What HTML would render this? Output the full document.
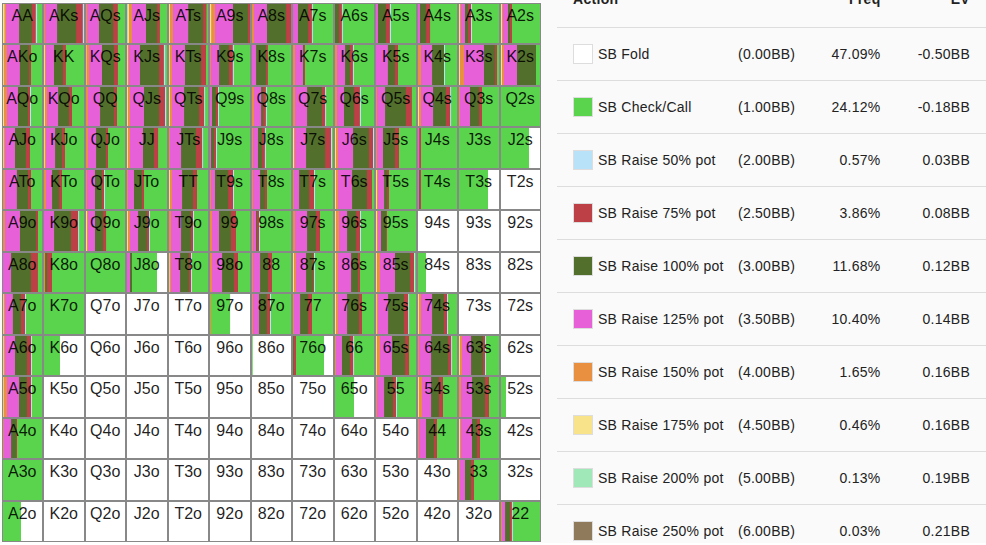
<!DOCTYPE html>
<html><head><meta charset="utf-8"><title>Range</title>
<style>
html,body{margin:0;padding:0}
body{width:986px;height:545px;overflow:hidden;background:#fafafa;position:relative;font-family:"Liberation Sans",sans-serif;font-size:14px;color:#222}
.sep{position:absolute;left:557px;width:429px;height:1px;background:#dddddd}
.sw{position:absolute;left:573px;width:20px;height:20px;box-sizing:border-box;border:1px solid #dddddd}
.t{position:absolute;height:53px;line-height:54px;white-space:nowrap;letter-spacing:0.25px}
.r{text-align:right}
.hd{position:absolute;top:-9px;height:16px;line-height:16px;font-weight:bold;white-space:nowrap;letter-spacing:0.3px}
</style></head><body>
<svg width="986" height="545" viewBox="0 0 986 545" style="position:absolute;left:0;top:0">
<rect x="2" y="2" width="539" height="541" fill="#ffffff"/>
<rect x="0" y="543" width="986" height="2" fill="#ffffff"/>
<rect x="2" y="3" width="539" height="539" fill="#888888"/>
<rect x="3.00" y="4" width="39.00" height="39" fill="#f8e28a"/>
<rect x="4.40" y="4" width="37.60" height="39" fill="#e89040"/>
<rect x="6.10" y="4" width="35.90" height="39" fill="#e860d8"/>
<rect x="19.10" y="4" width="22.90" height="39" fill="#52702c"/>
<rect x="31.90" y="4" width="10.10" height="39" fill="#bc4046"/>
<rect x="35.80" y="4" width="6.20" height="39" fill="#b8e2f8"/>
<rect x="37.10" y="4" width="4.90" height="39" fill="#5ad44c"/>
<rect x="44.00" y="4" width="40.00" height="39" fill="#e89040"/>
<rect x="45.20" y="4" width="38.80" height="39" fill="#e860d8"/>
<rect x="57.10" y="4" width="26.90" height="39" fill="#52702c"/>
<rect x="76.10" y="4" width="7.90" height="39" fill="#bc4046"/>
<rect x="82.80" y="4" width="1.20" height="39" fill="#b8e2f8"/>
<rect x="86.00" y="4" width="39.00" height="39" fill="#e89040"/>
<rect x="87.20" y="4" width="37.80" height="39" fill="#e860d8"/>
<rect x="99.00" y="4" width="26.00" height="39" fill="#52702c"/>
<rect x="113.20" y="4" width="11.80" height="39" fill="#bc4046"/>
<rect x="117.80" y="4" width="7.20" height="39" fill="#5ad44c"/>
<rect x="127.00" y="4" width="40.00" height="39" fill="#a0e8b8"/>
<rect x="128.00" y="4" width="39.00" height="39" fill="#f8e28a"/>
<rect x="129.00" y="4" width="38.00" height="39" fill="#e89040"/>
<rect x="132.00" y="4" width="35.00" height="39" fill="#e860d8"/>
<rect x="146.00" y="4" width="21.00" height="39" fill="#52702c"/>
<rect x="157.10" y="4" width="9.90" height="39" fill="#bc4046"/>
<rect x="159.90" y="4" width="7.10" height="39" fill="#5ad44c"/>
<rect x="169.00" y="4" width="39.00" height="39" fill="#f8e28a"/>
<rect x="170.00" y="4" width="38.00" height="39" fill="#e89040"/>
<rect x="173.00" y="4" width="35.00" height="39" fill="#e860d8"/>
<rect x="188.20" y="4" width="19.80" height="39" fill="#52702c"/>
<rect x="203.10" y="4" width="4.90" height="39" fill="#bc4046"/>
<rect x="206.50" y="4" width="1.50" height="39" fill="#5ad44c"/>
<rect x="210.00" y="4" width="40.00" height="39" fill="#f8e28a"/>
<rect x="211.20" y="4" width="38.80" height="39" fill="#e89040"/>
<rect x="215.00" y="4" width="35.00" height="39" fill="#e860d8"/>
<rect x="233.00" y="4" width="17.00" height="39" fill="#52702c"/>
<rect x="248.00" y="4" width="2.00" height="39" fill="#bc4046"/>
<rect x="252.00" y="4" width="39.00" height="39" fill="#e89040"/>
<rect x="254.00" y="4" width="37.00" height="39" fill="#e860d8"/>
<rect x="267.00" y="4" width="24.00" height="39" fill="#52702c"/>
<rect x="286.10" y="4" width="4.90" height="39" fill="#bc4046"/>
<rect x="293.00" y="4" width="40.00" height="39" fill="#e860d8"/>
<rect x="298.00" y="4" width="35.00" height="39" fill="#52702c"/>
<rect x="308.10" y="4" width="24.90" height="39" fill="#bc4046"/>
<rect x="311.90" y="4" width="21.10" height="39" fill="#b8e2f8"/>
<rect x="312.90" y="4" width="20.10" height="39" fill="#5ad44c"/>
<rect x="335.00" y="4" width="39.00" height="39" fill="#52702c"/>
<rect x="339.00" y="4" width="35.00" height="39" fill="#bc4046"/>
<rect x="341.90" y="4" width="32.10" height="39" fill="#b8e2f8"/>
<rect x="342.90" y="4" width="31.10" height="39" fill="#5ad44c"/>
<rect x="376.00" y="4" width="40.00" height="39" fill="#e860d8"/>
<rect x="378.00" y="4" width="38.00" height="39" fill="#52702c"/>
<rect x="385.90" y="4" width="30.10" height="39" fill="#bc4046"/>
<rect x="389.90" y="4" width="26.10" height="39" fill="#b8e2f8"/>
<rect x="391.00" y="4" width="25.00" height="39" fill="#5ad44c"/>
<rect x="418.00" y="4" width="39.00" height="39" fill="#e860d8"/>
<rect x="420.00" y="4" width="37.00" height="39" fill="#52702c"/>
<rect x="426.10" y="4" width="30.90" height="39" fill="#bc4046"/>
<rect x="430.10" y="4" width="26.90" height="39" fill="#5ad44c"/>
<rect x="459.00" y="4" width="40.00" height="39" fill="#f8e28a"/>
<rect x="460.00" y="4" width="39.00" height="39" fill="#e89040"/>
<rect x="461.00" y="4" width="38.00" height="39" fill="#e860d8"/>
<rect x="465.00" y="4" width="34.00" height="39" fill="#52702c"/>
<rect x="468.00" y="4" width="31.00" height="39" fill="#bc4046"/>
<rect x="471.00" y="4" width="28.00" height="39" fill="#b8e2f8"/>
<rect x="472.00" y="4" width="27.00" height="39" fill="#5ad44c"/>
<rect x="501.00" y="4" width="39.00" height="39" fill="#f8e28a"/>
<rect x="502.00" y="4" width="38.00" height="39" fill="#e89040"/>
<rect x="503.00" y="4" width="37.00" height="39" fill="#e860d8"/>
<rect x="508.00" y="4" width="32.00" height="39" fill="#52702c"/>
<rect x="510.00" y="4" width="30.00" height="39" fill="#bc4046"/>
<rect x="512.00" y="4" width="28.00" height="39" fill="#5ad44c"/>
<rect x="3.00" y="45" width="39.00" height="40" fill="#f8e28a"/>
<rect x="3.80" y="45" width="38.20" height="40" fill="#e89040"/>
<rect x="6.80" y="45" width="35.20" height="40" fill="#e860d8"/>
<rect x="19.90" y="45" width="22.10" height="40" fill="#52702c"/>
<rect x="29.00" y="45" width="13.00" height="40" fill="#bc4046"/>
<rect x="31.00" y="45" width="11.00" height="40" fill="#5ad44c"/>
<rect x="44.00" y="45" width="40.00" height="40" fill="#f8e28a"/>
<rect x="44.90" y="45" width="39.10" height="40" fill="#e89040"/>
<rect x="45.70" y="45" width="38.30" height="40" fill="#e860d8"/>
<rect x="54.00" y="45" width="30.00" height="40" fill="#52702c"/>
<rect x="62.90" y="45" width="21.10" height="40" fill="#bc4046"/>
<rect x="65.90" y="45" width="18.10" height="40" fill="#5ad44c"/>
<rect x="86.00" y="45" width="39.00" height="40" fill="#f8e28a"/>
<rect x="86.50" y="45" width="38.50" height="40" fill="#e89040"/>
<rect x="89.20" y="45" width="35.80" height="40" fill="#e860d8"/>
<rect x="102.00" y="45" width="23.00" height="40" fill="#52702c"/>
<rect x="114.00" y="45" width="11.00" height="40" fill="#bc4046"/>
<rect x="117.90" y="45" width="7.10" height="40" fill="#5ad44c"/>
<rect x="127.00" y="45" width="40.00" height="40" fill="#f8e28a"/>
<rect x="127.90" y="45" width="39.10" height="40" fill="#e89040"/>
<rect x="129.00" y="45" width="38.00" height="40" fill="#e860d8"/>
<rect x="140.00" y="45" width="27.00" height="40" fill="#52702c"/>
<rect x="159.10" y="45" width="7.90" height="40" fill="#bc4046"/>
<rect x="163.90" y="45" width="3.10" height="40" fill="#b8e2f8"/>
<rect x="165.20" y="45" width="1.80" height="40" fill="#5ad44c"/>
<rect x="169.00" y="45" width="39.00" height="40" fill="#f8e28a"/>
<rect x="169.80" y="45" width="38.20" height="40" fill="#e89040"/>
<rect x="172.00" y="45" width="36.00" height="40" fill="#e860d8"/>
<rect x="185.00" y="45" width="23.00" height="40" fill="#52702c"/>
<rect x="201.10" y="45" width="6.90" height="40" fill="#bc4046"/>
<rect x="206.00" y="45" width="2.00" height="40" fill="#5ad44c"/>
<rect x="210.00" y="45" width="40.00" height="40" fill="#e89040"/>
<rect x="210.90" y="45" width="39.10" height="40" fill="#e860d8"/>
<rect x="219.10" y="45" width="30.90" height="40" fill="#52702c"/>
<rect x="229.00" y="45" width="21.00" height="40" fill="#bc4046"/>
<rect x="232.80" y="45" width="17.20" height="40" fill="#b8e2f8"/>
<rect x="233.90" y="45" width="16.10" height="40" fill="#5ad44c"/>
<rect x="252.00" y="45" width="39.00" height="40" fill="#e860d8"/>
<rect x="256.10" y="45" width="34.90" height="40" fill="#52702c"/>
<rect x="266.00" y="45" width="25.00" height="40" fill="#bc4046"/>
<rect x="267.90" y="45" width="23.10" height="40" fill="#5ad44c"/>
<rect x="293.00" y="45" width="40.00" height="40" fill="#e89040"/>
<rect x="295.00" y="45" width="38.00" height="40" fill="#e860d8"/>
<rect x="303.00" y="45" width="30.00" height="40" fill="#52702c"/>
<rect x="304.00" y="45" width="29.00" height="40" fill="#bc4046"/>
<rect x="305.00" y="45" width="28.00" height="40" fill="#5ad44c"/>
<rect x="335.00" y="45" width="39.00" height="40" fill="#e89040"/>
<rect x="337.00" y="45" width="37.00" height="40" fill="#e860d8"/>
<rect x="345.10" y="45" width="28.90" height="40" fill="#52702c"/>
<rect x="349.90" y="45" width="24.10" height="40" fill="#bc4046"/>
<rect x="352.90" y="45" width="21.10" height="40" fill="#b8e2f8"/>
<rect x="353.90" y="45" width="20.10" height="40" fill="#5ad44c"/>
<rect x="376.00" y="45" width="40.00" height="40" fill="#e860d8"/>
<rect x="387.90" y="45" width="28.10" height="40" fill="#52702c"/>
<rect x="395.00" y="45" width="21.00" height="40" fill="#bc4046"/>
<rect x="398.00" y="45" width="18.00" height="40" fill="#5ad44c"/>
<rect x="418.00" y="45" width="39.00" height="40" fill="#e89040"/>
<rect x="421.00" y="45" width="36.00" height="40" fill="#e860d8"/>
<rect x="432.10" y="45" width="24.90" height="40" fill="#52702c"/>
<rect x="444.00" y="45" width="13.00" height="40" fill="#b8e2f8"/>
<rect x="445.00" y="45" width="12.00" height="40" fill="#5ad44c"/>
<rect x="459.00" y="45" width="40.00" height="40" fill="#f8e28a"/>
<rect x="460.00" y="45" width="39.00" height="40" fill="#e89040"/>
<rect x="464.00" y="45" width="35.00" height="40" fill="#e860d8"/>
<rect x="484.00" y="45" width="15.00" height="40" fill="#52702c"/>
<rect x="495.00" y="45" width="4.00" height="40" fill="#bc4046"/>
<rect x="497.00" y="45" width="2.00" height="40" fill="#5ad44c"/>
<rect x="501.00" y="45" width="39.00" height="40" fill="#f8e28a"/>
<rect x="502.00" y="45" width="38.00" height="40" fill="#e89040"/>
<rect x="504.00" y="45" width="36.00" height="40" fill="#e860d8"/>
<rect x="517.00" y="45" width="23.00" height="40" fill="#52702c"/>
<rect x="536.00" y="45" width="4.00" height="40" fill="#5ad44c"/>
<rect x="3.00" y="87" width="39.00" height="39" fill="#f8e28a"/>
<rect x="4.00" y="87" width="38.00" height="39" fill="#e89040"/>
<rect x="7.00" y="87" width="35.00" height="39" fill="#e860d8"/>
<rect x="18.00" y="87" width="24.00" height="39" fill="#52702c"/>
<rect x="28.00" y="87" width="14.00" height="39" fill="#bc4046"/>
<rect x="30.00" y="87" width="12.00" height="39" fill="#b8e2f8"/>
<rect x="31.00" y="87" width="11.00" height="39" fill="#5ad44c"/>
<rect x="44.00" y="87" width="40.00" height="39" fill="#f8e28a"/>
<rect x="45.00" y="87" width="39.00" height="39" fill="#e89040"/>
<rect x="47.00" y="87" width="37.00" height="39" fill="#e860d8"/>
<rect x="58.10" y="87" width="25.90" height="39" fill="#52702c"/>
<rect x="69.00" y="87" width="15.00" height="39" fill="#bc4046"/>
<rect x="72.00" y="87" width="12.00" height="39" fill="#5ad44c"/>
<rect x="86.00" y="87" width="39.00" height="39" fill="#e89040"/>
<rect x="88.00" y="87" width="37.00" height="39" fill="#e860d8"/>
<rect x="100.10" y="87" width="24.90" height="39" fill="#52702c"/>
<rect x="114.00" y="87" width="11.00" height="39" fill="#bc4046"/>
<rect x="117.00" y="87" width="8.00" height="39" fill="#5ad44c"/>
<rect x="127.00" y="87" width="40.00" height="39" fill="#f8e28a"/>
<rect x="128.00" y="87" width="39.00" height="39" fill="#e89040"/>
<rect x="130.00" y="87" width="37.00" height="39" fill="#e860d8"/>
<rect x="144.00" y="87" width="23.00" height="39" fill="#52702c"/>
<rect x="159.10" y="87" width="7.90" height="39" fill="#bc4046"/>
<rect x="165.00" y="87" width="2.00" height="39" fill="#b8e2f8"/>
<rect x="166.00" y="87" width="1.00" height="39" fill="#5ad44c"/>
<rect x="169.00" y="87" width="39.00" height="39" fill="#f8e28a"/>
<rect x="170.00" y="87" width="38.00" height="39" fill="#e89040"/>
<rect x="172.00" y="87" width="36.00" height="39" fill="#e860d8"/>
<rect x="184.10" y="87" width="23.90" height="39" fill="#52702c"/>
<rect x="199.10" y="87" width="8.90" height="39" fill="#bc4046"/>
<rect x="204.10" y="87" width="3.90" height="39" fill="#b8e2f8"/>
<rect x="205.10" y="87" width="2.90" height="39" fill="#5ad44c"/>
<rect x="210.00" y="87" width="40.00" height="39" fill="#e860d8"/>
<rect x="212.00" y="87" width="38.00" height="39" fill="#52702c"/>
<rect x="216.00" y="87" width="34.00" height="39" fill="#bc4046"/>
<rect x="218.00" y="87" width="32.00" height="39" fill="#b8e2f8"/>
<rect x="219.00" y="87" width="31.00" height="39" fill="#5ad44c"/>
<rect x="252.00" y="87" width="39.00" height="39" fill="#e89040"/>
<rect x="254.00" y="87" width="37.00" height="39" fill="#e860d8"/>
<rect x="261.10" y="87" width="29.90" height="39" fill="#52702c"/>
<rect x="263.10" y="87" width="27.90" height="39" fill="#bc4046"/>
<rect x="265.90" y="87" width="25.10" height="39" fill="#b8e2f8"/>
<rect x="266.90" y="87" width="24.10" height="39" fill="#5ad44c"/>
<rect x="293.00" y="87" width="40.00" height="39" fill="#e89040"/>
<rect x="295.00" y="87" width="38.00" height="39" fill="#e860d8"/>
<rect x="307.10" y="87" width="25.90" height="39" fill="#52702c"/>
<rect x="322.00" y="87" width="11.00" height="39" fill="#bc4046"/>
<rect x="325.10" y="87" width="7.90" height="39" fill="#b8e2f8"/>
<rect x="326.10" y="87" width="6.90" height="39" fill="#5ad44c"/>
<rect x="335.00" y="87" width="39.00" height="39" fill="#e89040"/>
<rect x="337.00" y="87" width="37.00" height="39" fill="#e860d8"/>
<rect x="344.00" y="87" width="30.00" height="39" fill="#52702c"/>
<rect x="354.10" y="87" width="19.90" height="39" fill="#bc4046"/>
<rect x="359.90" y="87" width="14.10" height="39" fill="#b8e2f8"/>
<rect x="361.00" y="87" width="13.00" height="39" fill="#5ad44c"/>
<rect x="376.00" y="87" width="40.00" height="39" fill="#e89040"/>
<rect x="377.00" y="87" width="39.00" height="39" fill="#e860d8"/>
<rect x="385.10" y="87" width="30.90" height="39" fill="#52702c"/>
<rect x="405.90" y="87" width="10.10" height="39" fill="#bc4046"/>
<rect x="411.90" y="87" width="4.10" height="39" fill="#5ad44c"/>
<rect x="418.00" y="87" width="39.00" height="39" fill="#f8e28a"/>
<rect x="419.00" y="87" width="38.00" height="39" fill="#e89040"/>
<rect x="421.00" y="87" width="36.00" height="39" fill="#e860d8"/>
<rect x="433.10" y="87" width="23.90" height="39" fill="#52702c"/>
<rect x="446.00" y="87" width="11.00" height="39" fill="#bc4046"/>
<rect x="450.10" y="87" width="6.90" height="39" fill="#b8e2f8"/>
<rect x="451.10" y="87" width="5.90" height="39" fill="#5ad44c"/>
<rect x="459.00" y="87" width="40.00" height="39" fill="#e89040"/>
<rect x="460.00" y="87" width="39.00" height="39" fill="#e860d8"/>
<rect x="470.00" y="87" width="29.00" height="39" fill="#52702c"/>
<rect x="479.10" y="87" width="19.90" height="39" fill="#bc4046"/>
<rect x="482.00" y="87" width="17.00" height="39" fill="#5ad44c"/>
<rect x="501.00" y="87" width="39.00" height="39" fill="#5ad44c"/>
<rect x="3.00" y="128" width="39.00" height="40" fill="#f8e28a"/>
<rect x="3.70" y="128" width="38.30" height="40" fill="#e89040"/>
<rect x="5.00" y="128" width="37.00" height="40" fill="#e860d8"/>
<rect x="15.00" y="128" width="27.00" height="40" fill="#52702c"/>
<rect x="26.00" y="128" width="16.00" height="40" fill="#bc4046"/>
<rect x="30.00" y="128" width="12.00" height="40" fill="#5ad44c"/>
<rect x="44.00" y="128" width="40.00" height="40" fill="#f8e28a"/>
<rect x="44.80" y="128" width="39.20" height="40" fill="#e89040"/>
<rect x="46.00" y="128" width="38.00" height="40" fill="#e860d8"/>
<rect x="55.10" y="128" width="28.90" height="40" fill="#52702c"/>
<rect x="62.00" y="128" width="22.00" height="40" fill="#bc4046"/>
<rect x="65.00" y="128" width="19.00" height="40" fill="#5ad44c"/>
<rect x="86.00" y="128" width="39.00" height="40" fill="#e89040"/>
<rect x="88.00" y="128" width="37.00" height="40" fill="#e860d8"/>
<rect x="96.10" y="128" width="28.90" height="40" fill="#52702c"/>
<rect x="106.00" y="128" width="19.00" height="40" fill="#bc4046"/>
<rect x="108.00" y="128" width="17.00" height="40" fill="#5ad44c"/>
<rect x="127.00" y="128" width="40.00" height="40" fill="#f8e28a"/>
<rect x="128.00" y="128" width="39.00" height="40" fill="#e89040"/>
<rect x="130.00" y="128" width="37.00" height="40" fill="#e860d8"/>
<rect x="143.00" y="128" width="24.00" height="40" fill="#52702c"/>
<rect x="154.00" y="128" width="13.00" height="40" fill="#bc4046"/>
<rect x="158.10" y="128" width="8.90" height="40" fill="#5ad44c"/>
<rect x="169.00" y="128" width="39.00" height="40" fill="#e89040"/>
<rect x="170.00" y="128" width="38.00" height="40" fill="#e860d8"/>
<rect x="181.10" y="128" width="26.90" height="40" fill="#52702c"/>
<rect x="196.00" y="128" width="12.00" height="40" fill="#bc4046"/>
<rect x="202.10" y="128" width="5.90" height="40" fill="#b8e2f8"/>
<rect x="203.10" y="128" width="4.90" height="40" fill="#5ad44c"/>
<rect x="210.00" y="128" width="40.00" height="40" fill="#e860d8"/>
<rect x="211.00" y="128" width="39.00" height="40" fill="#52702c"/>
<rect x="214.00" y="128" width="36.00" height="40" fill="#bc4046"/>
<rect x="216.00" y="128" width="34.00" height="40" fill="#b8e2f8"/>
<rect x="217.00" y="128" width="33.00" height="40" fill="#5ad44c"/>
<rect x="252.00" y="128" width="39.00" height="40" fill="#e89040"/>
<rect x="253.00" y="128" width="38.00" height="40" fill="#e860d8"/>
<rect x="258.00" y="128" width="33.00" height="40" fill="#52702c"/>
<rect x="262.10" y="128" width="28.90" height="40" fill="#bc4046"/>
<rect x="264.90" y="128" width="26.10" height="40" fill="#b8e2f8"/>
<rect x="265.90" y="128" width="25.10" height="40" fill="#5ad44c"/>
<rect x="293.00" y="128" width="40.00" height="40" fill="#f8e28a"/>
<rect x="294.00" y="128" width="39.00" height="40" fill="#e89040"/>
<rect x="295.00" y="128" width="38.00" height="40" fill="#e860d8"/>
<rect x="306.10" y="128" width="26.90" height="40" fill="#52702c"/>
<rect x="325.10" y="128" width="7.90" height="40" fill="#bc4046"/>
<rect x="331.00" y="128" width="2.00" height="40" fill="#b8e2f8"/>
<rect x="332.00" y="128" width="1.00" height="40" fill="#5ad44c"/>
<rect x="335.00" y="128" width="39.00" height="40" fill="#f8e28a"/>
<rect x="336.00" y="128" width="38.00" height="40" fill="#e89040"/>
<rect x="338.00" y="128" width="36.00" height="40" fill="#e860d8"/>
<rect x="353.10" y="128" width="20.90" height="40" fill="#52702c"/>
<rect x="369.00" y="128" width="5.00" height="40" fill="#bc4046"/>
<rect x="373.00" y="128" width="1.00" height="40" fill="#b8e2f8"/>
<rect x="376.00" y="128" width="40.00" height="40" fill="#e89040"/>
<rect x="377.00" y="128" width="39.00" height="40" fill="#e860d8"/>
<rect x="383.00" y="128" width="33.00" height="40" fill="#52702c"/>
<rect x="395.00" y="128" width="21.00" height="40" fill="#bc4046"/>
<rect x="399.00" y="128" width="17.00" height="40" fill="#5ad44c"/>
<rect x="418.00" y="128" width="39.00" height="40" fill="#e860d8"/>
<rect x="419.20" y="128" width="37.80" height="40" fill="#bc4046"/>
<rect x="421.00" y="128" width="36.00" height="40" fill="#5ad44c"/>
<rect x="459.00" y="128" width="40.00" height="40" fill="#5ad44c"/>
<rect x="501.00" y="128" width="39.00" height="40" fill="#5ad44c"/>
<rect x="529.00" y="128" width="11.00" height="40" fill="#ffffff"/>
<rect x="3.00" y="170" width="39.00" height="39" fill="#e89040"/>
<rect x="5.00" y="170" width="37.00" height="39" fill="#e860d8"/>
<rect x="16.90" y="170" width="25.10" height="39" fill="#52702c"/>
<rect x="28.00" y="170" width="14.00" height="39" fill="#bc4046"/>
<rect x="31.00" y="170" width="11.00" height="39" fill="#5ad44c"/>
<rect x="44.00" y="170" width="40.00" height="39" fill="#e89040"/>
<rect x="46.00" y="170" width="38.00" height="39" fill="#e860d8"/>
<rect x="52.10" y="170" width="31.90" height="39" fill="#52702c"/>
<rect x="59.10" y="170" width="24.90" height="39" fill="#bc4046"/>
<rect x="62.00" y="170" width="22.00" height="39" fill="#5ad44c"/>
<rect x="86.00" y="170" width="39.00" height="39" fill="#e89040"/>
<rect x="87.00" y="170" width="38.00" height="39" fill="#e860d8"/>
<rect x="95.00" y="170" width="30.00" height="39" fill="#52702c"/>
<rect x="102.00" y="170" width="23.00" height="39" fill="#bc4046"/>
<rect x="104.00" y="170" width="21.00" height="39" fill="#b8e2f8"/>
<rect x="105.00" y="170" width="20.00" height="39" fill="#5ad44c"/>
<rect x="127.00" y="170" width="40.00" height="39" fill="#e89040"/>
<rect x="128.00" y="170" width="39.00" height="39" fill="#e860d8"/>
<rect x="134.00" y="170" width="33.00" height="39" fill="#52702c"/>
<rect x="142.00" y="170" width="25.00" height="39" fill="#bc4046"/>
<rect x="144.00" y="170" width="23.00" height="39" fill="#5ad44c"/>
<rect x="169.00" y="170" width="39.00" height="39" fill="#f8e28a"/>
<rect x="170.00" y="170" width="38.00" height="39" fill="#e89040"/>
<rect x="172.00" y="170" width="36.00" height="39" fill="#e860d8"/>
<rect x="182.10" y="170" width="25.90" height="39" fill="#52702c"/>
<rect x="193.00" y="170" width="15.00" height="39" fill="#bc4046"/>
<rect x="197.00" y="170" width="11.00" height="39" fill="#5ad44c"/>
<rect x="210.00" y="170" width="40.00" height="39" fill="#e89040"/>
<rect x="211.00" y="170" width="39.00" height="39" fill="#e860d8"/>
<rect x="215.00" y="170" width="35.00" height="39" fill="#52702c"/>
<rect x="228.10" y="170" width="21.90" height="39" fill="#bc4046"/>
<rect x="233.00" y="170" width="17.00" height="39" fill="#b8e2f8"/>
<rect x="234.00" y="170" width="16.00" height="39" fill="#5ad44c"/>
<rect x="252.00" y="170" width="39.00" height="39" fill="#e89040"/>
<rect x="253.00" y="170" width="38.00" height="39" fill="#e860d8"/>
<rect x="260.10" y="170" width="30.90" height="39" fill="#52702c"/>
<rect x="265.00" y="170" width="26.00" height="39" fill="#bc4046"/>
<rect x="267.00" y="170" width="24.00" height="39" fill="#5ad44c"/>
<rect x="293.00" y="170" width="40.00" height="39" fill="#e89040"/>
<rect x="294.00" y="170" width="39.00" height="39" fill="#e860d8"/>
<rect x="299.10" y="170" width="33.90" height="39" fill="#52702c"/>
<rect x="309.10" y="170" width="23.90" height="39" fill="#bc4046"/>
<rect x="314.00" y="170" width="19.00" height="39" fill="#b8e2f8"/>
<rect x="315.00" y="170" width="18.00" height="39" fill="#5ad44c"/>
<rect x="335.00" y="170" width="39.00" height="39" fill="#f8e28a"/>
<rect x="336.00" y="170" width="38.00" height="39" fill="#e89040"/>
<rect x="338.00" y="170" width="36.00" height="39" fill="#e860d8"/>
<rect x="352.10" y="170" width="21.90" height="39" fill="#52702c"/>
<rect x="367.00" y="170" width="7.00" height="39" fill="#bc4046"/>
<rect x="372.00" y="170" width="2.00" height="39" fill="#5ad44c"/>
<rect x="376.00" y="170" width="40.00" height="39" fill="#f8e28a"/>
<rect x="377.00" y="170" width="39.00" height="39" fill="#e89040"/>
<rect x="378.00" y="170" width="38.00" height="39" fill="#e860d8"/>
<rect x="384.10" y="170" width="31.90" height="39" fill="#52702c"/>
<rect x="387.10" y="170" width="28.90" height="39" fill="#bc4046"/>
<rect x="389.00" y="170" width="27.00" height="39" fill="#5ad44c"/>
<rect x="418.00" y="170" width="39.00" height="39" fill="#e860d8"/>
<rect x="419.00" y="170" width="38.00" height="39" fill="#52702c"/>
<rect x="419.80" y="170" width="37.20" height="39" fill="#bc4046"/>
<rect x="421.00" y="170" width="36.00" height="39" fill="#5ad44c"/>
<rect x="459.00" y="170" width="40.00" height="39" fill="#5ad44c"/>
<rect x="488.00" y="170" width="11.00" height="39" fill="#ffffff"/>
<rect x="501.00" y="170" width="39.00" height="39" fill="#ffffff"/>
<rect x="3.00" y="211" width="39.00" height="40" fill="#e89040"/>
<rect x="5.00" y="211" width="37.00" height="40" fill="#e860d8"/>
<rect x="20.00" y="211" width="22.00" height="40" fill="#52702c"/>
<rect x="36.10" y="211" width="5.90" height="40" fill="#bc4046"/>
<rect x="38.00" y="211" width="4.00" height="40" fill="#5ad44c"/>
<rect x="44.00" y="211" width="40.00" height="40" fill="#e860d8"/>
<rect x="54.10" y="211" width="29.90" height="40" fill="#52702c"/>
<rect x="71.00" y="211" width="13.00" height="40" fill="#bc4046"/>
<rect x="78.10" y="211" width="5.90" height="40" fill="#b8e2f8"/>
<rect x="79.10" y="211" width="4.90" height="40" fill="#5ad44c"/>
<rect x="86.00" y="211" width="39.00" height="40" fill="#f8e28a"/>
<rect x="87.00" y="211" width="38.00" height="40" fill="#e89040"/>
<rect x="88.00" y="211" width="37.00" height="40" fill="#e860d8"/>
<rect x="95.00" y="211" width="30.00" height="40" fill="#52702c"/>
<rect x="103.10" y="211" width="21.90" height="40" fill="#bc4046"/>
<rect x="106.10" y="211" width="18.90" height="40" fill="#5ad44c"/>
<rect x="127.00" y="211" width="40.00" height="40" fill="#f8e28a"/>
<rect x="128.00" y="211" width="39.00" height="40" fill="#e89040"/>
<rect x="130.00" y="211" width="37.00" height="40" fill="#e860d8"/>
<rect x="138.10" y="211" width="28.90" height="40" fill="#52702c"/>
<rect x="147.00" y="211" width="20.00" height="40" fill="#bc4046"/>
<rect x="149.00" y="211" width="18.00" height="40" fill="#b8e2f8"/>
<rect x="150.00" y="211" width="17.00" height="40" fill="#5ad44c"/>
<rect x="169.00" y="211" width="39.00" height="40" fill="#e89040"/>
<rect x="171.00" y="211" width="37.00" height="40" fill="#e860d8"/>
<rect x="181.10" y="211" width="26.90" height="40" fill="#52702c"/>
<rect x="191.00" y="211" width="17.00" height="40" fill="#bc4046"/>
<rect x="193.00" y="211" width="15.00" height="40" fill="#b8e2f8"/>
<rect x="194.00" y="211" width="14.00" height="40" fill="#5ad44c"/>
<rect x="210.00" y="211" width="40.00" height="40" fill="#e89040"/>
<rect x="212.00" y="211" width="38.00" height="40" fill="#e860d8"/>
<rect x="219.00" y="211" width="31.00" height="40" fill="#52702c"/>
<rect x="231.00" y="211" width="19.00" height="40" fill="#bc4046"/>
<rect x="236.00" y="211" width="14.00" height="40" fill="#5ad44c"/>
<rect x="252.00" y="211" width="39.00" height="40" fill="#e89040"/>
<rect x="253.00" y="211" width="38.00" height="40" fill="#e860d8"/>
<rect x="256.00" y="211" width="35.00" height="40" fill="#52702c"/>
<rect x="257.00" y="211" width="34.00" height="40" fill="#bc4046"/>
<rect x="259.00" y="211" width="32.00" height="40" fill="#b8e2f8"/>
<rect x="260.00" y="211" width="31.00" height="40" fill="#5ad44c"/>
<rect x="293.00" y="211" width="40.00" height="40" fill="#e89040"/>
<rect x="295.00" y="211" width="38.00" height="40" fill="#e860d8"/>
<rect x="307.10" y="211" width="25.90" height="40" fill="#52702c"/>
<rect x="316.00" y="211" width="17.00" height="40" fill="#bc4046"/>
<rect x="320.00" y="211" width="13.00" height="40" fill="#5ad44c"/>
<rect x="335.00" y="211" width="39.00" height="40" fill="#f8e28a"/>
<rect x="336.00" y="211" width="38.00" height="40" fill="#e89040"/>
<rect x="339.00" y="211" width="35.00" height="40" fill="#e860d8"/>
<rect x="347.10" y="211" width="26.90" height="40" fill="#52702c"/>
<rect x="356.10" y="211" width="17.90" height="40" fill="#bc4046"/>
<rect x="360.00" y="211" width="14.00" height="40" fill="#b8e2f8"/>
<rect x="361.00" y="211" width="13.00" height="40" fill="#5ad44c"/>
<rect x="376.00" y="211" width="40.00" height="40" fill="#f8e28a"/>
<rect x="377.00" y="211" width="39.00" height="40" fill="#e89040"/>
<rect x="378.00" y="211" width="38.00" height="40" fill="#e860d8"/>
<rect x="381.00" y="211" width="35.00" height="40" fill="#52702c"/>
<rect x="385.90" y="211" width="30.10" height="40" fill="#bc4046"/>
<rect x="386.90" y="211" width="29.10" height="40" fill="#5ad44c"/>
<rect x="418.00" y="211" width="39.00" height="40" fill="#ffffff"/>
<rect x="459.00" y="211" width="40.00" height="40" fill="#ffffff"/>
<rect x="501.00" y="211" width="39.00" height="40" fill="#ffffff"/>
<rect x="3.00" y="253" width="39.00" height="39" fill="#e860d8"/>
<rect x="11.10" y="253" width="30.90" height="39" fill="#52702c"/>
<rect x="31.00" y="253" width="11.00" height="39" fill="#bc4046"/>
<rect x="37.90" y="253" width="4.10" height="39" fill="#5ad44c"/>
<rect x="44.00" y="253" width="40.00" height="39" fill="#e89040"/>
<rect x="45.10" y="253" width="38.90" height="39" fill="#52702c"/>
<rect x="47.00" y="253" width="37.00" height="39" fill="#bc4046"/>
<rect x="52.00" y="253" width="32.00" height="39" fill="#5ad44c"/>
<rect x="86.00" y="253" width="39.00" height="39" fill="#5ad44c"/>
<rect x="127.00" y="253" width="40.00" height="39" fill="#e860d8"/>
<rect x="130.00" y="253" width="37.00" height="39" fill="#52702c"/>
<rect x="132.00" y="253" width="35.00" height="39" fill="#5ad44c"/>
<rect x="157.00" y="253" width="10.00" height="39" fill="#ffffff"/>
<rect x="169.00" y="253" width="39.00" height="39" fill="#f8e28a"/>
<rect x="169.70" y="253" width="38.30" height="39" fill="#e89040"/>
<rect x="171.00" y="253" width="37.00" height="39" fill="#e860d8"/>
<rect x="180.10" y="253" width="27.90" height="39" fill="#52702c"/>
<rect x="189.00" y="253" width="19.00" height="39" fill="#bc4046"/>
<rect x="191.00" y="253" width="17.00" height="39" fill="#b8e2f8"/>
<rect x="192.00" y="253" width="16.00" height="39" fill="#5ad44c"/>
<rect x="210.00" y="253" width="40.00" height="39" fill="#e89040"/>
<rect x="212.00" y="253" width="38.00" height="39" fill="#e860d8"/>
<rect x="222.10" y="253" width="27.90" height="39" fill="#52702c"/>
<rect x="234.00" y="253" width="16.00" height="39" fill="#bc4046"/>
<rect x="238.00" y="253" width="12.00" height="39" fill="#5ad44c"/>
<rect x="252.00" y="253" width="39.00" height="39" fill="#e89040"/>
<rect x="253.00" y="253" width="38.00" height="39" fill="#e860d8"/>
<rect x="260.10" y="253" width="30.90" height="39" fill="#52702c"/>
<rect x="268.00" y="253" width="23.00" height="39" fill="#bc4046"/>
<rect x="272.00" y="253" width="19.00" height="39" fill="#5ad44c"/>
<rect x="293.00" y="253" width="40.00" height="39" fill="#f8e28a"/>
<rect x="294.00" y="253" width="39.00" height="39" fill="#e89040"/>
<rect x="296.00" y="253" width="37.00" height="39" fill="#e860d8"/>
<rect x="306.10" y="253" width="26.90" height="39" fill="#52702c"/>
<rect x="313.00" y="253" width="20.00" height="39" fill="#bc4046"/>
<rect x="314.00" y="253" width="19.00" height="39" fill="#b8e2f8"/>
<rect x="315.00" y="253" width="18.00" height="39" fill="#5ad44c"/>
<rect x="335.00" y="253" width="39.00" height="39" fill="#f8e28a"/>
<rect x="336.00" y="253" width="38.00" height="39" fill="#e89040"/>
<rect x="338.00" y="253" width="36.00" height="39" fill="#e860d8"/>
<rect x="351.10" y="253" width="22.90" height="39" fill="#52702c"/>
<rect x="358.00" y="253" width="16.00" height="39" fill="#bc4046"/>
<rect x="360.00" y="253" width="14.00" height="39" fill="#5ad44c"/>
<rect x="376.00" y="253" width="40.00" height="39" fill="#f8e28a"/>
<rect x="377.00" y="253" width="39.00" height="39" fill="#e89040"/>
<rect x="380.00" y="253" width="36.00" height="39" fill="#e860d8"/>
<rect x="395.00" y="253" width="21.00" height="39" fill="#52702c"/>
<rect x="410.10" y="253" width="5.90" height="39" fill="#bc4046"/>
<rect x="414.00" y="253" width="2.00" height="39" fill="#b8e2f8"/>
<rect x="415.00" y="253" width="1.00" height="39" fill="#5ad44c"/>
<rect x="418.00" y="253" width="39.00" height="39" fill="#5ad44c"/>
<rect x="426.00" y="253" width="31.00" height="39" fill="#ffffff"/>
<rect x="459.00" y="253" width="40.00" height="39" fill="#ffffff"/>
<rect x="501.00" y="253" width="39.00" height="39" fill="#ffffff"/>
<rect x="3.00" y="294" width="39.00" height="40" fill="#f8e28a"/>
<rect x="3.70" y="294" width="38.30" height="40" fill="#e89040"/>
<rect x="5.00" y="294" width="37.00" height="40" fill="#e860d8"/>
<rect x="12.90" y="294" width="29.10" height="40" fill="#52702c"/>
<rect x="21.00" y="294" width="21.00" height="40" fill="#bc4046"/>
<rect x="25.00" y="294" width="17.00" height="40" fill="#b8e2f8"/>
<rect x="26.00" y="294" width="16.00" height="40" fill="#5ad44c"/>
<rect x="44.00" y="294" width="40.00" height="40" fill="#5ad44c"/>
<rect x="86.00" y="294" width="39.00" height="40" fill="#ffffff"/>
<rect x="127.00" y="294" width="40.00" height="40" fill="#ffffff"/>
<rect x="169.00" y="294" width="39.00" height="40" fill="#ffffff"/>
<rect x="210.00" y="294" width="40.00" height="40" fill="#e89040"/>
<rect x="211.00" y="294" width="39.00" height="40" fill="#5ad44c"/>
<rect x="230.10" y="294" width="19.90" height="40" fill="#ffffff"/>
<rect x="252.00" y="294" width="39.00" height="40" fill="#e89040"/>
<rect x="253.00" y="294" width="38.00" height="40" fill="#e860d8"/>
<rect x="259.00" y="294" width="32.00" height="40" fill="#52702c"/>
<rect x="267.00" y="294" width="24.00" height="40" fill="#bc4046"/>
<rect x="270.00" y="294" width="21.00" height="40" fill="#b8e2f8"/>
<rect x="271.00" y="294" width="20.00" height="40" fill="#5ad44c"/>
<rect x="293.00" y="294" width="40.00" height="40" fill="#e89040"/>
<rect x="294.00" y="294" width="39.00" height="40" fill="#e860d8"/>
<rect x="300.10" y="294" width="32.90" height="40" fill="#52702c"/>
<rect x="308.10" y="294" width="24.90" height="40" fill="#bc4046"/>
<rect x="312.00" y="294" width="21.00" height="40" fill="#5ad44c"/>
<rect x="335.00" y="294" width="39.00" height="40" fill="#f8e28a"/>
<rect x="336.00" y="294" width="38.00" height="40" fill="#e89040"/>
<rect x="338.00" y="294" width="36.00" height="40" fill="#e860d8"/>
<rect x="347.10" y="294" width="26.90" height="40" fill="#52702c"/>
<rect x="359.00" y="294" width="15.00" height="40" fill="#bc4046"/>
<rect x="362.00" y="294" width="12.00" height="40" fill="#5ad44c"/>
<rect x="376.00" y="294" width="40.00" height="40" fill="#f8e28a"/>
<rect x="376.70" y="294" width="39.30" height="40" fill="#e89040"/>
<rect x="378.00" y="294" width="38.00" height="40" fill="#e860d8"/>
<rect x="388.10" y="294" width="27.90" height="40" fill="#52702c"/>
<rect x="404.00" y="294" width="12.00" height="40" fill="#bc4046"/>
<rect x="408.10" y="294" width="7.90" height="40" fill="#b8e2f8"/>
<rect x="409.10" y="294" width="6.90" height="40" fill="#5ad44c"/>
<rect x="418.00" y="294" width="39.00" height="40" fill="#f8e28a"/>
<rect x="419.00" y="294" width="38.00" height="40" fill="#e89040"/>
<rect x="421.00" y="294" width="36.00" height="40" fill="#e860d8"/>
<rect x="432.10" y="294" width="24.90" height="40" fill="#52702c"/>
<rect x="444.00" y="294" width="13.00" height="40" fill="#bc4046"/>
<rect x="447.00" y="294" width="10.00" height="40" fill="#b8e2f8"/>
<rect x="448.00" y="294" width="9.00" height="40" fill="#5ad44c"/>
<rect x="459.00" y="294" width="40.00" height="40" fill="#ffffff"/>
<rect x="501.00" y="294" width="39.00" height="40" fill="#ffffff"/>
<rect x="3.00" y="336" width="39.00" height="39" fill="#f8e28a"/>
<rect x="3.70" y="336" width="38.30" height="39" fill="#e89040"/>
<rect x="5.00" y="336" width="37.00" height="39" fill="#e860d8"/>
<rect x="15.00" y="336" width="27.00" height="39" fill="#52702c"/>
<rect x="27.00" y="336" width="15.00" height="39" fill="#bc4046"/>
<rect x="31.00" y="336" width="11.00" height="39" fill="#b8e2f8"/>
<rect x="32.00" y="336" width="10.00" height="39" fill="#5ad44c"/>
<rect x="44.00" y="336" width="40.00" height="39" fill="#5ad44c"/>
<rect x="60.00" y="336" width="24.00" height="39" fill="#ffffff"/>
<rect x="86.00" y="336" width="39.00" height="39" fill="#ffffff"/>
<rect x="127.00" y="336" width="40.00" height="39" fill="#ffffff"/>
<rect x="169.00" y="336" width="39.00" height="39" fill="#ffffff"/>
<rect x="210.00" y="336" width="40.00" height="39" fill="#ffffff"/>
<rect x="252.00" y="336" width="39.00" height="39" fill="#5ad44c"/>
<rect x="252.70" y="336" width="38.30" height="39" fill="#ffffff"/>
<rect x="293.00" y="336" width="40.00" height="39" fill="#52702c"/>
<rect x="293.70" y="336" width="39.30" height="39" fill="#bc4046"/>
<rect x="296.00" y="336" width="37.00" height="39" fill="#5ad44c"/>
<rect x="324.00" y="336" width="9.00" height="39" fill="#ffffff"/>
<rect x="335.00" y="336" width="39.00" height="39" fill="#e89040"/>
<rect x="336.00" y="336" width="38.00" height="39" fill="#e860d8"/>
<rect x="342.00" y="336" width="32.00" height="39" fill="#52702c"/>
<rect x="350.10" y="336" width="23.90" height="39" fill="#bc4046"/>
<rect x="353.10" y="336" width="20.90" height="39" fill="#b8e2f8"/>
<rect x="354.10" y="336" width="19.90" height="39" fill="#5ad44c"/>
<rect x="376.00" y="336" width="40.00" height="39" fill="#f8e28a"/>
<rect x="377.00" y="336" width="39.00" height="39" fill="#e89040"/>
<rect x="380.00" y="336" width="36.00" height="39" fill="#e860d8"/>
<rect x="392.00" y="336" width="24.00" height="39" fill="#52702c"/>
<rect x="405.10" y="336" width="10.90" height="39" fill="#bc4046"/>
<rect x="409.10" y="336" width="6.90" height="39" fill="#5ad44c"/>
<rect x="418.00" y="336" width="39.00" height="39" fill="#e89040"/>
<rect x="419.00" y="336" width="38.00" height="39" fill="#e860d8"/>
<rect x="431.10" y="336" width="25.90" height="39" fill="#52702c"/>
<rect x="448.10" y="336" width="8.90" height="39" fill="#bc4046"/>
<rect x="451.10" y="336" width="5.90" height="39" fill="#b8e2f8"/>
<rect x="452.10" y="336" width="4.90" height="39" fill="#5ad44c"/>
<rect x="459.00" y="336" width="40.00" height="39" fill="#f8e28a"/>
<rect x="460.00" y="336" width="39.00" height="39" fill="#e89040"/>
<rect x="462.00" y="336" width="37.00" height="39" fill="#e860d8"/>
<rect x="471.10" y="336" width="27.90" height="39" fill="#52702c"/>
<rect x="483.00" y="336" width="16.00" height="39" fill="#bc4046"/>
<rect x="485.00" y="336" width="14.00" height="39" fill="#b8e2f8"/>
<rect x="486.00" y="336" width="13.00" height="39" fill="#5ad44c"/>
<rect x="501.00" y="336" width="39.00" height="39" fill="#ffffff"/>
<rect x="3.00" y="377" width="39.00" height="40" fill="#f8e28a"/>
<rect x="3.70" y="377" width="38.30" height="40" fill="#e89040"/>
<rect x="7.00" y="377" width="35.00" height="40" fill="#e860d8"/>
<rect x="19.00" y="377" width="23.00" height="40" fill="#52702c"/>
<rect x="27.00" y="377" width="15.00" height="40" fill="#bc4046"/>
<rect x="31.00" y="377" width="11.00" height="40" fill="#b8e2f8"/>
<rect x="32.00" y="377" width="10.00" height="40" fill="#5ad44c"/>
<rect x="44.00" y="377" width="40.00" height="40" fill="#ffffff"/>
<rect x="86.00" y="377" width="39.00" height="40" fill="#ffffff"/>
<rect x="127.00" y="377" width="40.00" height="40" fill="#ffffff"/>
<rect x="169.00" y="377" width="39.00" height="40" fill="#ffffff"/>
<rect x="210.00" y="377" width="40.00" height="40" fill="#ffffff"/>
<rect x="252.00" y="377" width="39.00" height="40" fill="#ffffff"/>
<rect x="293.00" y="377" width="40.00" height="40" fill="#ffffff"/>
<rect x="335.00" y="377" width="39.00" height="40" fill="#5ad44c"/>
<rect x="354.00" y="377" width="20.00" height="40" fill="#ffffff"/>
<rect x="376.00" y="377" width="40.00" height="40" fill="#e89040"/>
<rect x="377.00" y="377" width="39.00" height="40" fill="#e860d8"/>
<rect x="384.10" y="377" width="31.90" height="40" fill="#52702c"/>
<rect x="393.00" y="377" width="23.00" height="40" fill="#bc4046"/>
<rect x="396.00" y="377" width="20.00" height="40" fill="#b8e2f8"/>
<rect x="397.00" y="377" width="19.00" height="40" fill="#5ad44c"/>
<rect x="418.00" y="377" width="39.00" height="40" fill="#f8e28a"/>
<rect x="419.00" y="377" width="38.00" height="40" fill="#e89040"/>
<rect x="422.00" y="377" width="35.00" height="40" fill="#e860d8"/>
<rect x="431.10" y="377" width="25.90" height="40" fill="#52702c"/>
<rect x="439.00" y="377" width="18.00" height="40" fill="#bc4046"/>
<rect x="443.00" y="377" width="14.00" height="40" fill="#5ad44c"/>
<rect x="459.00" y="377" width="40.00" height="40" fill="#e89040"/>
<rect x="461.00" y="377" width="38.00" height="40" fill="#e860d8"/>
<rect x="472.10" y="377" width="26.90" height="40" fill="#52702c"/>
<rect x="485.00" y="377" width="14.00" height="40" fill="#bc4046"/>
<rect x="489.00" y="377" width="10.00" height="40" fill="#5ad44c"/>
<rect x="501.00" y="377" width="39.00" height="40" fill="#5ad44c"/>
<rect x="506.00" y="377" width="34.00" height="40" fill="#ffffff"/>
<rect x="3.00" y="419" width="39.00" height="39" fill="#e89040"/>
<rect x="3.70" y="419" width="38.30" height="39" fill="#e860d8"/>
<rect x="11.10" y="419" width="30.90" height="39" fill="#52702c"/>
<rect x="16.00" y="419" width="26.00" height="39" fill="#bc4046"/>
<rect x="17.00" y="419" width="25.00" height="39" fill="#5ad44c"/>
<rect x="44.00" y="419" width="40.00" height="39" fill="#ffffff"/>
<rect x="86.00" y="419" width="39.00" height="39" fill="#ffffff"/>
<rect x="127.00" y="419" width="40.00" height="39" fill="#ffffff"/>
<rect x="169.00" y="419" width="39.00" height="39" fill="#ffffff"/>
<rect x="210.00" y="419" width="40.00" height="39" fill="#ffffff"/>
<rect x="252.00" y="419" width="39.00" height="39" fill="#ffffff"/>
<rect x="293.00" y="419" width="40.00" height="39" fill="#ffffff"/>
<rect x="335.00" y="419" width="39.00" height="39" fill="#ffffff"/>
<rect x="376.00" y="419" width="40.00" height="39" fill="#ffffff"/>
<rect x="418.00" y="419" width="39.00" height="39" fill="#e89040"/>
<rect x="419.00" y="419" width="38.00" height="39" fill="#e860d8"/>
<rect x="426.00" y="419" width="31.00" height="39" fill="#52702c"/>
<rect x="434.00" y="419" width="23.00" height="39" fill="#bc4046"/>
<rect x="437.00" y="419" width="20.00" height="39" fill="#5ad44c"/>
<rect x="459.00" y="419" width="40.00" height="39" fill="#f8e28a"/>
<rect x="460.00" y="419" width="39.00" height="39" fill="#e89040"/>
<rect x="461.00" y="419" width="38.00" height="39" fill="#e860d8"/>
<rect x="472.00" y="419" width="27.00" height="39" fill="#52702c"/>
<rect x="477.00" y="419" width="22.00" height="39" fill="#bc4046"/>
<rect x="480.00" y="419" width="19.00" height="39" fill="#5ad44c"/>
<rect x="501.00" y="419" width="39.00" height="39" fill="#ffffff"/>
<rect x="3.00" y="460" width="39.00" height="40" fill="#5ad44c"/>
<rect x="44.00" y="460" width="40.00" height="40" fill="#ffffff"/>
<rect x="86.00" y="460" width="39.00" height="40" fill="#ffffff"/>
<rect x="127.00" y="460" width="40.00" height="40" fill="#ffffff"/>
<rect x="169.00" y="460" width="39.00" height="40" fill="#ffffff"/>
<rect x="210.00" y="460" width="40.00" height="40" fill="#ffffff"/>
<rect x="252.00" y="460" width="39.00" height="40" fill="#ffffff"/>
<rect x="293.00" y="460" width="40.00" height="40" fill="#ffffff"/>
<rect x="335.00" y="460" width="39.00" height="40" fill="#ffffff"/>
<rect x="376.00" y="460" width="40.00" height="40" fill="#ffffff"/>
<rect x="418.00" y="460" width="39.00" height="40" fill="#ffffff"/>
<rect x="459.00" y="460" width="40.00" height="40" fill="#e89040"/>
<rect x="460.00" y="460" width="39.00" height="40" fill="#e860d8"/>
<rect x="465.00" y="460" width="34.00" height="40" fill="#52702c"/>
<rect x="471.00" y="460" width="28.00" height="40" fill="#bc4046"/>
<rect x="474.00" y="460" width="25.00" height="40" fill="#5ad44c"/>
<rect x="501.00" y="460" width="39.00" height="40" fill="#ffffff"/>
<rect x="3.00" y="502" width="39.00" height="39" fill="#5ad44c"/>
<rect x="21.00" y="502" width="21.00" height="39" fill="#ffffff"/>
<rect x="44.00" y="502" width="40.00" height="39" fill="#ffffff"/>
<rect x="86.00" y="502" width="39.00" height="39" fill="#ffffff"/>
<rect x="127.00" y="502" width="40.00" height="39" fill="#ffffff"/>
<rect x="169.00" y="502" width="39.00" height="39" fill="#ffffff"/>
<rect x="210.00" y="502" width="40.00" height="39" fill="#ffffff"/>
<rect x="252.00" y="502" width="39.00" height="39" fill="#ffffff"/>
<rect x="293.00" y="502" width="40.00" height="39" fill="#ffffff"/>
<rect x="335.00" y="502" width="39.00" height="39" fill="#ffffff"/>
<rect x="376.00" y="502" width="40.00" height="39" fill="#ffffff"/>
<rect x="418.00" y="502" width="39.00" height="39" fill="#ffffff"/>
<rect x="459.00" y="502" width="40.00" height="39" fill="#ffffff"/>
<rect x="501.00" y="502" width="39.00" height="39" fill="#e89040"/>
<rect x="502.00" y="502" width="38.00" height="39" fill="#e860d8"/>
<rect x="505.10" y="502" width="34.90" height="39" fill="#52702c"/>
<rect x="510.00" y="502" width="30.00" height="39" fill="#bc4046"/>
<rect x="511.90" y="502" width="28.10" height="39" fill="#b8e2f8"/>
<rect x="512.90" y="502" width="27.10" height="39" fill="#5ad44c"/>
<g font-family="Liberation Sans, sans-serif" font-size="16" text-anchor="middle" fill="#000" fill-opacity="0.88">
<text x="22.2" y="21">AA</text>
<text x="63.7" y="21">AKs</text>
<text x="105.2" y="21">AQs</text>
<text x="146.7" y="21">AJs</text>
<text x="188.2" y="21">ATs</text>
<text x="229.7" y="21">A9s</text>
<text x="271.2" y="21">A8s</text>
<text x="312.7" y="21">A7s</text>
<text x="354.2" y="21">A6s</text>
<text x="395.7" y="21">A5s</text>
<text x="437.2" y="21">A4s</text>
<text x="478.7" y="21">A3s</text>
<text x="520.2" y="21">A2s</text>
<text x="22.2" y="62">AKo</text>
<text x="63.7" y="62">KK</text>
<text x="105.2" y="62">KQs</text>
<text x="146.7" y="62">KJs</text>
<text x="188.2" y="62">KTs</text>
<text x="229.7" y="62">K9s</text>
<text x="271.2" y="62">K8s</text>
<text x="312.7" y="62">K7s</text>
<text x="354.2" y="62">K6s</text>
<text x="395.7" y="62">K5s</text>
<text x="437.2" y="62">K4s</text>
<text x="478.7" y="62">K3s</text>
<text x="520.2" y="62">K2s</text>
<text x="22.2" y="104">AQo</text>
<text x="63.7" y="104">KQo</text>
<text x="105.2" y="104">QQ</text>
<text x="146.7" y="104">QJs</text>
<text x="188.2" y="104">QTs</text>
<text x="229.7" y="104">Q9s</text>
<text x="271.2" y="104">Q8s</text>
<text x="312.7" y="104">Q7s</text>
<text x="354.2" y="104">Q6s</text>
<text x="395.7" y="104">Q5s</text>
<text x="437.2" y="104">Q4s</text>
<text x="478.7" y="104">Q3s</text>
<text x="520.2" y="104">Q2s</text>
<text x="22.2" y="145">AJo</text>
<text x="63.7" y="145">KJo</text>
<text x="105.2" y="145">QJo</text>
<text x="146.7" y="145">JJ</text>
<text x="188.2" y="145">JTs</text>
<text x="229.7" y="145">J9s</text>
<text x="271.2" y="145">J8s</text>
<text x="312.7" y="145">J7s</text>
<text x="354.2" y="145">J6s</text>
<text x="395.7" y="145">J5s</text>
<text x="437.2" y="145">J4s</text>
<text x="478.7" y="145">J3s</text>
<text x="520.2" y="145">J2s</text>
<text x="22.2" y="187">ATo</text>
<text x="63.7" y="187">KTo</text>
<text x="105.2" y="187">QTo</text>
<text x="146.7" y="187">JTo</text>
<text x="188.2" y="187">TT</text>
<text x="229.7" y="187">T9s</text>
<text x="271.2" y="187">T8s</text>
<text x="312.7" y="187">T7s</text>
<text x="354.2" y="187">T6s</text>
<text x="395.7" y="187">T5s</text>
<text x="437.2" y="187">T4s</text>
<text x="478.7" y="187">T3s</text>
<text x="520.2" y="187">T2s</text>
<text x="22.2" y="228">A9o</text>
<text x="63.7" y="228">K9o</text>
<text x="105.2" y="228">Q9o</text>
<text x="146.7" y="228">J9o</text>
<text x="188.2" y="228">T9o</text>
<text x="229.7" y="228">99</text>
<text x="271.2" y="228">98s</text>
<text x="312.7" y="228">97s</text>
<text x="354.2" y="228">96s</text>
<text x="395.7" y="228">95s</text>
<text x="437.2" y="228">94s</text>
<text x="478.7" y="228">93s</text>
<text x="520.2" y="228">92s</text>
<text x="22.2" y="270">A8o</text>
<text x="63.7" y="270">K8o</text>
<text x="105.2" y="270">Q8o</text>
<text x="146.7" y="270">J8o</text>
<text x="188.2" y="270">T8o</text>
<text x="229.7" y="270">98o</text>
<text x="271.2" y="270">88</text>
<text x="312.7" y="270">87s</text>
<text x="354.2" y="270">86s</text>
<text x="395.7" y="270">85s</text>
<text x="437.2" y="270">84s</text>
<text x="478.7" y="270">83s</text>
<text x="520.2" y="270">82s</text>
<text x="22.2" y="311">A7o</text>
<text x="63.7" y="311">K7o</text>
<text x="105.2" y="311">Q7o</text>
<text x="146.7" y="311">J7o</text>
<text x="188.2" y="311">T7o</text>
<text x="229.7" y="311">97o</text>
<text x="271.2" y="311">87o</text>
<text x="312.7" y="311">77</text>
<text x="354.2" y="311">76s</text>
<text x="395.7" y="311">75s</text>
<text x="437.2" y="311">74s</text>
<text x="478.7" y="311">73s</text>
<text x="520.2" y="311">72s</text>
<text x="22.2" y="353">A6o</text>
<text x="63.7" y="353">K6o</text>
<text x="105.2" y="353">Q6o</text>
<text x="146.7" y="353">J6o</text>
<text x="188.2" y="353">T6o</text>
<text x="229.7" y="353">96o</text>
<text x="271.2" y="353">86o</text>
<text x="312.7" y="353">76o</text>
<text x="354.2" y="353">66</text>
<text x="395.7" y="353">65s</text>
<text x="437.2" y="353">64s</text>
<text x="478.7" y="353">63s</text>
<text x="520.2" y="353">62s</text>
<text x="22.2" y="394">A5o</text>
<text x="63.7" y="394">K5o</text>
<text x="105.2" y="394">Q5o</text>
<text x="146.7" y="394">J5o</text>
<text x="188.2" y="394">T5o</text>
<text x="229.7" y="394">95o</text>
<text x="271.2" y="394">85o</text>
<text x="312.7" y="394">75o</text>
<text x="354.2" y="394">65o</text>
<text x="395.7" y="394">55</text>
<text x="437.2" y="394">54s</text>
<text x="478.7" y="394">53s</text>
<text x="520.2" y="394">52s</text>
<text x="22.2" y="436">A4o</text>
<text x="63.7" y="436">K4o</text>
<text x="105.2" y="436">Q4o</text>
<text x="146.7" y="436">J4o</text>
<text x="188.2" y="436">T4o</text>
<text x="229.7" y="436">94o</text>
<text x="271.2" y="436">84o</text>
<text x="312.7" y="436">74o</text>
<text x="354.2" y="436">64o</text>
<text x="395.7" y="436">54o</text>
<text x="437.2" y="436">44</text>
<text x="478.7" y="436">43s</text>
<text x="520.2" y="436">42s</text>
<text x="22.2" y="477">A3o</text>
<text x="63.7" y="477">K3o</text>
<text x="105.2" y="477">Q3o</text>
<text x="146.7" y="477">J3o</text>
<text x="188.2" y="477">T3o</text>
<text x="229.7" y="477">93o</text>
<text x="271.2" y="477">83o</text>
<text x="312.7" y="477">73o</text>
<text x="354.2" y="477">63o</text>
<text x="395.7" y="477">53o</text>
<text x="437.2" y="477">43o</text>
<text x="478.7" y="477">33</text>
<text x="520.2" y="477">32s</text>
<text x="22.2" y="519">A2o</text>
<text x="63.7" y="519">K2o</text>
<text x="105.2" y="519">Q2o</text>
<text x="146.7" y="519">J2o</text>
<text x="188.2" y="519">T2o</text>
<text x="229.7" y="519">92o</text>
<text x="271.2" y="519">82o</text>
<text x="312.7" y="519">72o</text>
<text x="354.2" y="519">62o</text>
<text x="395.7" y="519">52o</text>
<text x="437.2" y="519">42o</text>
<text x="478.7" y="519">32o</text>
<text x="520.2" y="519">22</text>
</g>
</svg>
<div class="hd" style="left:573px">Action</div>
<div class="hd r" style="left:780px;width:100.5px">Freq</div>
<div class="hd r" style="left:870px;width:100px">EV</div>
<div class="sep" style="top:27px"></div>
<div class="sw" style="top:44px;background:#ffffff"></div>
<div class="t" style="top:27px;left:598px">SB Fold</div>
<div class="t" style="top:27px;left:738px">(0.00BB)</div>
<div class="t r" style="top:27px;left:780px;width:100.5px">47.09%</div>
<div class="t r" style="top:27px;left:870px;width:100px">-0.50BB</div>
<div class="sep" style="top:80px"></div>
<div class="sw" style="top:97px;background:#5ad44c"></div>
<div class="t" style="top:80px;left:598px">SB Check/Call</div>
<div class="t" style="top:80px;left:738px">(1.00BB)</div>
<div class="t r" style="top:80px;left:780px;width:100.5px">24.12%</div>
<div class="t r" style="top:80px;left:870px;width:100px">-0.18BB</div>
<div class="sep" style="top:133px"></div>
<div class="sw" style="top:150px;background:#b8e2f8"></div>
<div class="t" style="top:133px;left:598px">SB Raise 50% pot</div>
<div class="t" style="top:133px;left:738px">(2.00BB)</div>
<div class="t r" style="top:133px;left:780px;width:100.5px">0.57%</div>
<div class="t r" style="top:133px;left:870px;width:100px">0.03BB</div>
<div class="sep" style="top:186px"></div>
<div class="sw" style="top:203px;background:#bc4046"></div>
<div class="t" style="top:186px;left:598px">SB Raise 75% pot</div>
<div class="t" style="top:186px;left:738px">(2.50BB)</div>
<div class="t r" style="top:186px;left:780px;width:100.5px">3.86%</div>
<div class="t r" style="top:186px;left:870px;width:100px">0.08BB</div>
<div class="sep" style="top:239px"></div>
<div class="sw" style="top:256px;background:#52702c"></div>
<div class="t" style="top:239px;left:598px">SB Raise 100% pot</div>
<div class="t" style="top:239px;left:738px">(3.00BB)</div>
<div class="t r" style="top:239px;left:780px;width:100.5px">11.68%</div>
<div class="t r" style="top:239px;left:870px;width:100px">0.12BB</div>
<div class="sep" style="top:292px"></div>
<div class="sw" style="top:309px;background:#e860d8"></div>
<div class="t" style="top:292px;left:598px">SB Raise 125% pot</div>
<div class="t" style="top:292px;left:738px">(3.50BB)</div>
<div class="t r" style="top:292px;left:780px;width:100.5px">10.40%</div>
<div class="t r" style="top:292px;left:870px;width:100px">0.14BB</div>
<div class="sep" style="top:345px"></div>
<div class="sw" style="top:362px;background:#e89040"></div>
<div class="t" style="top:345px;left:598px">SB Raise 150% pot</div>
<div class="t" style="top:345px;left:738px">(4.00BB)</div>
<div class="t r" style="top:345px;left:780px;width:100.5px">1.65%</div>
<div class="t r" style="top:345px;left:870px;width:100px">0.16BB</div>
<div class="sep" style="top:398px"></div>
<div class="sw" style="top:415px;background:#f8e28a"></div>
<div class="t" style="top:398px;left:598px">SB Raise 175% pot</div>
<div class="t" style="top:398px;left:738px">(4.50BB)</div>
<div class="t r" style="top:398px;left:780px;width:100.5px">0.46%</div>
<div class="t r" style="top:398px;left:870px;width:100px">0.16BB</div>
<div class="sep" style="top:451px"></div>
<div class="sw" style="top:468px;background:#a0e8b8"></div>
<div class="t" style="top:451px;left:598px">SB Raise 200% pot</div>
<div class="t" style="top:451px;left:738px">(5.00BB)</div>
<div class="t r" style="top:451px;left:780px;width:100.5px">0.13%</div>
<div class="t r" style="top:451px;left:870px;width:100px">0.19BB</div>
<div class="sep" style="top:504px"></div>
<div class="sw" style="top:521px;background:#907a5c"></div>
<div class="t" style="top:504px;left:598px">SB Raise 250% pot</div>
<div class="t" style="top:504px;left:738px">(6.00BB)</div>
<div class="t r" style="top:504px;left:780px;width:100.5px">0.03%</div>
<div class="t r" style="top:504px;left:870px;width:100px">0.21BB</div>
</body></html>
